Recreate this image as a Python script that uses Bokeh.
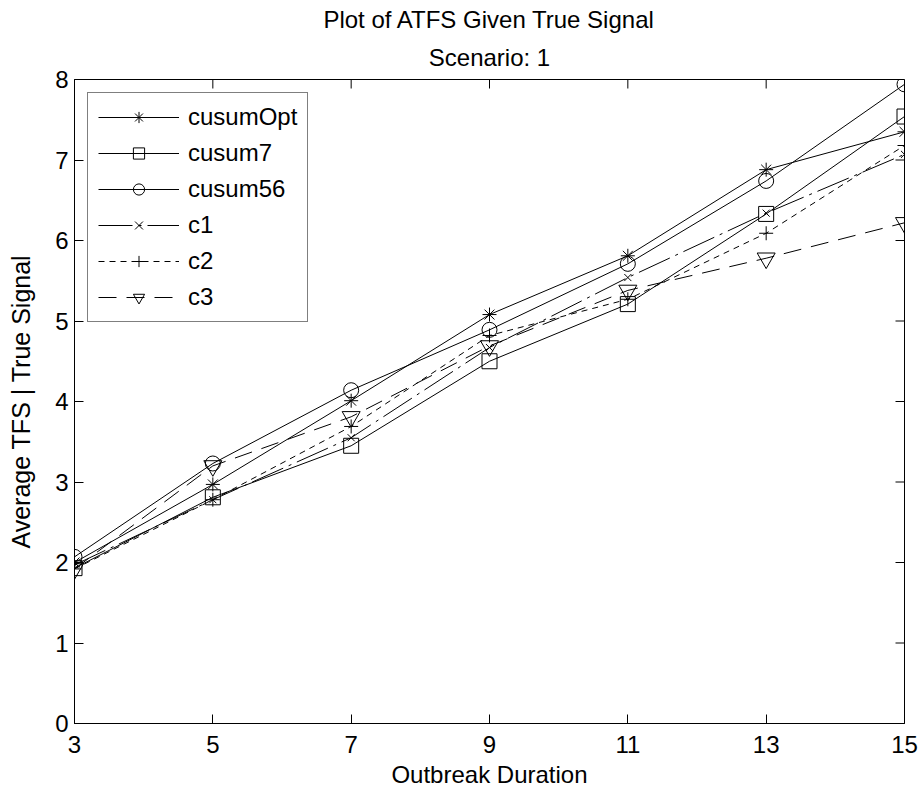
import math
from bokeh.plotting import figure
from bokeh.models import Range1d, FixedTicker, Title, Legend, LegendItem
from bokeh.embed import file_html
from bokeh.resources import INLINE

# ---- data ----
durations = [3, 5, 7, 9, 11, 13, 15]
cusumOpt = [2.00, 2.97, 4.01, 5.08, 5.81, 6.88, 7.35]
cusum7 = [1.93, 2.81, 3.45, 4.50, 5.21, 6.33, 7.54]
cusum56 = [2.07, 3.23, 4.14, 4.89, 5.71, 6.74, 7.94]
c1 = [1.97, 2.78, 3.55, 4.67, 5.54, 6.34, 7.07]
c2 = [1.92, 2.78, 3.69, 4.82, 5.27, 6.09, 7.18]
c3 = [1.92, 3.20, 3.81, 4.69, 5.38, 5.78, 6.22]
series_names = ["cusumOpt", "cusum7", "cusum56", "c1", "c2", "c3"]
x_ticks = [3, 5, 7, 9, 11, 13, 15]
y_ticks = [0, 1, 2, 3, 4, 5, 6, 7, 8]

FONT = "Liberation Sans"
FS = "24px"

p = figure(width=923, height=792, output_backend="svg", toolbar_location=None,
           x_range=Range1d(x_ticks[0], x_ticks[-1]), y_range=Range1d(y_ticks[0], y_ticks[-1]),
           min_border_left=74, min_border_right=19, min_border_top=79, min_border_bottom=69)
p.grid.visible = False
p.outline_line_color = "black"
p.outline_line_width = 1
p.outline_line_alpha = 1.0
p.background_fill_color = "white"
p.border_fill_color = "white"

for ax in (p.xaxis[0], p.yaxis[0]):
    ax.major_tick_in = 9
    ax.major_tick_out = 0
    ax.minor_tick_in = 0
    ax.minor_tick_out = 0
    ax.axis_line_color = "black"
    ax.axis_line_width = 1
    ax.major_tick_line_color = "black"
    ax.major_label_text_font = FONT
    ax.major_label_text_font_size = FS
    ax.major_label_text_color = "black"
    ax.axis_label_text_font = FONT
    ax.axis_label_text_font_size = FS
    ax.axis_label_text_font_style = "normal"
    ax.axis_label_text_color = "black"

p.xaxis.ticker = FixedTicker(ticks=x_ticks)
p.yaxis.ticker = FixedTicker(ticks=y_ticks)
p.xaxis.axis_label = "Outbreak Duration"
p.yaxis.axis_label = "Average TFS | True Signal"
p.yaxis.axis_label_text_font_size = "25px"
p.xaxis.major_label_standoff = 12
p.xaxis.axis_label_standoff = 5
p.yaxis.major_label_standoff = 6
p.yaxis.axis_label_standoff = 17

# inward ticks on the top and right edges of the box (MATLAB style)
p.ray(x=x_ticks, y=[y_ticks[-1]] * len(x_ticks), length=9, length_units="screen",
      angle=-math.pi / 2, line_color="black", line_width=1)
p.ray(x=[x_ticks[-1]] * len(y_ticks), y=y_ticks, length=9, length_units="screen",
      angle=math.pi, line_color="black", line_width=1)

p.add_layout(Title(text="Scenario: 1", align="center", text_font=FONT, text_font_size=FS,
                   text_font_style="normal", text_color="black", standoff=18), "above")
p.add_layout(Title(text="Plot of ATFS Given True Signal", align="center", text_font=FONT,
                   text_font_size=FS, text_font_style="normal", text_color="black", standoff=0), "above")

series = [cusumOpt, cusum7, cusum56, c1, c2, c3]
markers = ["asterisk", "square", "circle", "x", "cross", "inverted_triangle"]
sizes = [14, 15, 15, 10, 14, 18]
dashes = ["solid", "solid", "solid", "34 6 3 6", "6 5", "18 10"]

items = []
for name, vals, mk, sz, dash in zip(series_names, series, markers, sizes, dashes):
    ln = p.line(durations, vals, line_color="black", line_width=1, line_dash=dash)
    sc = p.scatter(durations, vals, marker=mk, size=sz, line_color="black", line_width=1,
                   fill_color=None)
    items.append(LegendItem(label=name, renderers=[ln, sc]))

legend = Legend(items=items, location="top_left", margin=13, padding=10,
                glyph_width=81, glyph_height=28, label_height=28, spacing=8,
                label_standoff=9, label_text_font=FONT, label_text_font_size=FS,
                label_text_color="black", border_line_color="black", border_line_width=1,
                background_fill_color="white", background_fill_alpha=1.0)
p.add_layout(legend)

open("out.html", "w").write(file_html(p, INLINE))
